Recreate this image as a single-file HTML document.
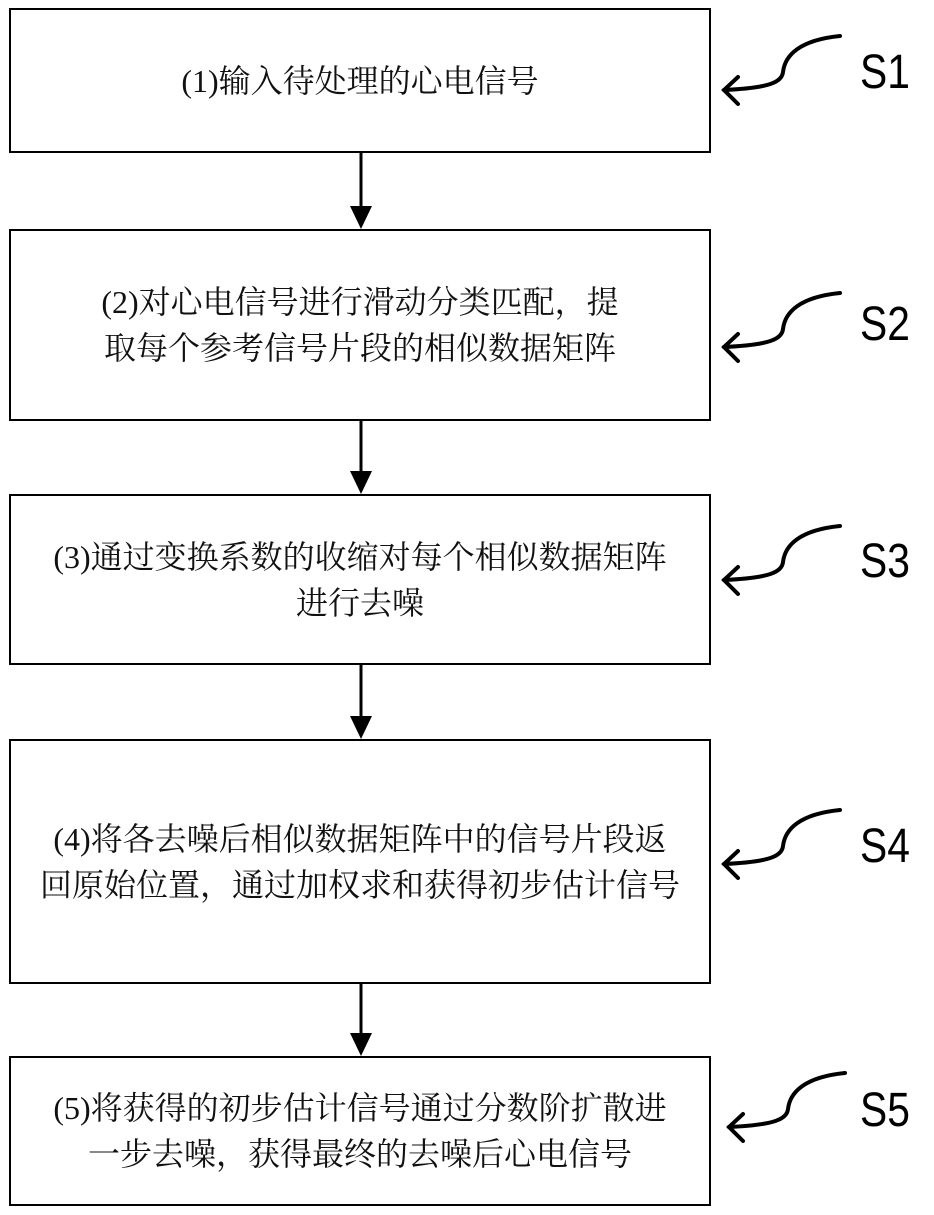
<!DOCTYPE html>
<html><head><meta charset="utf-8">
<style>
body{margin:0;background:#fff;}
.wrap{position:relative;width:934px;height:1215px;overflow:hidden;}
.box{position:absolute;left:9px;width:702px;border:2px solid #000;box-sizing:border-box;display:flex;align-items:center;justify-content:center;text-align:center;font-family:"Liberation Serif","Noto Serif CJK SC",serif;font-size:32px;line-height:46px;color:#111;}
.s{position:absolute;left:860px;font-family:"Liberation Sans",sans-serif;font-size:48px;color:#000;transform:scaleX(0.85);transform-origin:left;}
</style></head><body><div class="wrap">
<div class="box" style="top:8px;height:145px;">(1)输入待处理的心电信号</div>
<div class="box" style="top:229px;height:192px;">(2)对心电信号进行滑动分类匹配，提<br>取每个参考信号片段的相似数据矩阵</div>
<div class="box" style="top:494px;height:171px;">(3)通过变换系数的收缩对每个相似数据矩阵<br>进行去噪</div>
<div class="box" style="top:739px;height:245px;">(4)将各去噪后相似数据矩阵中的信号片段返<br>回原始位置，通过加权求和获得初步估计信号</div>
<div class="box" style="top:1056px;height:150px;">(5)将获得的初步估计信号通过分数阶扩散进<br>一步去噪，获得最终的去噪后心电信号</div>
<div class="s" style="top:45px;">S1</div>
<div class="s" style="top:297px;">S2</div>
<div class="s" style="top:534px;">S3</div>
<div class="s" style="top:819px;">S4</div>
<div class="s" style="top:1083px;">S5</div>
<svg width="934" height="1215" style="position:absolute;left:0;top:0" fill="none" stroke="#000">
<g stroke-width="3">
<line x1="361" y1="153" x2="361" y2="215"/>
<line x1="361" y1="421" x2="361" y2="480"/>
<line x1="361" y1="665" x2="361" y2="725"/>
<line x1="361" y1="984" x2="361" y2="1042"/>
</g>
<g fill="#000" stroke="none">
<polygon points="350,206 372,206 361,229"/>
<polygon points="350,471 372,471 361,494"/>
<polygon points="350,716 372,716 361,739"/>
<polygon points="350,1033 372,1033 361,1056"/>
</g>
<g stroke-width="4" stroke-linecap="round">
<g transform="translate(0,0)"><path d="M840,36 C800,40 785,55 783,72 C782,82 770,88 724,90"/><path d="M738,77 L724,90 L738,104"/></g>
<g transform="translate(0,257)"><path d="M840,36 C800,40 785,55 783,72 C782,82 770,88 724,90"/><path d="M738,77 L724,90 L738,104"/></g>
<g transform="translate(0,490)"><path d="M840,36 C800,40 785,55 783,72 C782,82 770,88 724,90"/><path d="M738,77 L724,90 L738,104"/></g>
<g transform="translate(0,774)"><path d="M840,36 C800,40 785,55 783,72 C782,82 770,88 724,90"/><path d="M738,77 L724,90 L738,104"/></g>
<g transform="translate(5,1037)"><path d="M840,36 C800,40 785,55 783,72 C782,82 770,88 724,90"/><path d="M738,77 L724,90 L738,104"/></g>
</g>
</svg>
</div></body></html>
